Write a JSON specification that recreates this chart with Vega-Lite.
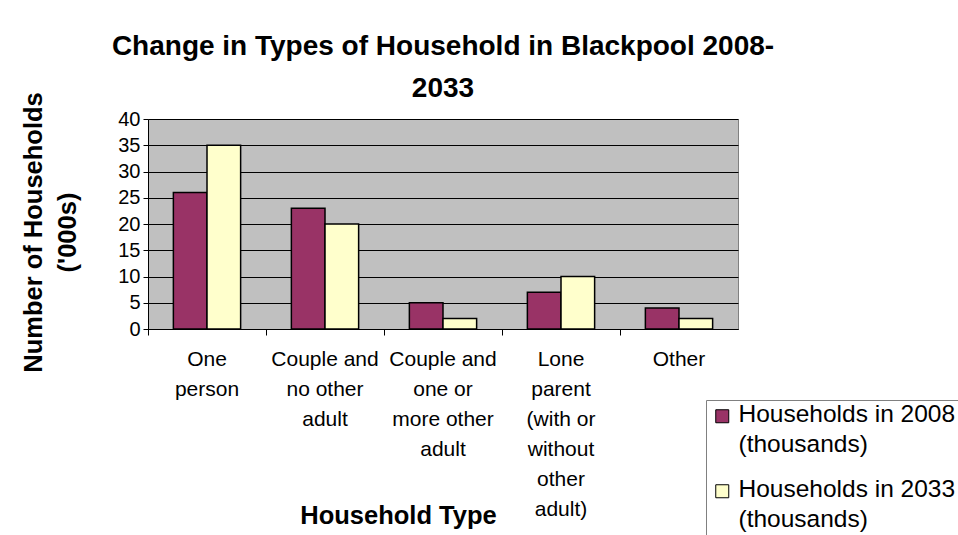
{
  "$schema": "https://vega.github.io/schema/vega-lite/v6.json",
  "autosize": {"type": "none"},
  "width": 590,
  "height": 210,
  "padding": {"left": 148, "top": 119, "right": 220, "bottom": 206},
  "background": "white",
  "title": {
    "text": ["Change in Types of Household in Blackpool 2008-", "2033"],
    "font": "Liberation Sans",
    "fontSize": 28,
    "fontWeight": "bold",
    "color": "black",
    "anchor": "middle",
    "lineHeight": 42,
    "offset": -11
  },
  "config": {
    "view": {"fill": "#C0C0C0", "stroke": "#808080", "strokeWidth": 1},
    "font": "Liberation Sans"
  },
  "data": {
    "values": [
      {"type": "One person", "series": "Households in 2008 (thousands)", "value": 26},
      {"type": "One person", "series": "Households in 2033 (thousands)", "value": 35},
      {"type": "Couple and no other adult", "series": "Households in 2008 (thousands)", "value": 23},
      {"type": "Couple and no other adult", "series": "Households in 2033 (thousands)", "value": 20},
      {"type": "Couple and one or more other adult", "series": "Households in 2008 (thousands)", "value": 5},
      {"type": "Couple and one or more other adult", "series": "Households in 2033 (thousands)", "value": 2},
      {"type": "Lone parent (with or without other adult)", "series": "Households in 2008 (thousands)", "value": 7},
      {"type": "Lone parent (with or without other adult)", "series": "Households in 2033 (thousands)", "value": 10},
      {"type": "Other", "series": "Households in 2008 (thousands)", "value": 4},
      {"type": "Other", "series": "Households in 2033 (thousands)", "value": 2}
    ]
  },
  "mark": {"type": "bar", "stroke": "black", "strokeWidth": 1.5},
  "encoding": {
    "x": {
      "field": "type",
      "type": "nominal",
      "sort": null,
      "scale": {"paddingInner": 0.43, "paddingOuter": 0.215},
      "axis": {
        "title": "Household Type",
        "titleFont": "Liberation Sans",
        "titleFontSize": 25.5,
        "titleFontWeight": "bold",
        "titleColor": "black",
        "titleX": 250,
        "titleY": 186,
        "titleAnchor": null,
        "titleAlign": "center",
        "titleBaseline": "middle",
        "labelAngle": 0,
        "labelFontSize": 21,
        "labelColor": "black",
        "labelLineHeight": 30,
        "labelBaseline": "top",
        "labelPadding": 13,
        "labelLimit": 200,
        "labelExpr": "datum.label == 'One person' ? ['One','person'] : datum.label == 'Couple and no other adult' ? ['Couple and','no other','adult'] : datum.label == 'Couple and one or more other adult' ? ['Couple and','one or','more other','adult'] : datum.label == 'Lone parent (with or without other adult)' ? ['Lone','parent','(with or','without','other','adult)'] : datum.label",
        "bandPosition": -0.377,
        "tickSize": 6,
        "tickColor": "black",
        "domainColor": "black",
        "grid": false
      }
    },
    "xOffset": {"field": "series", "type": "nominal"},
    "y": {
      "field": "value",
      "type": "quantitative",
      "scale": {"domain": [0, 40], "nice": false},
      "axis": {
        "values": [0, 5, 10, 15, 20, 25, 30, 35, 40],
        "title": ["Number of Households", "('000s)"],
        "titleFont": "Liberation Sans",
        "titleFontSize": 25.5,
        "titleFontWeight": "bold",
        "titleColor": "black",
        "titleLineHeight": 34,
        "titleAngle": -90,
        "titleX": -115,
        "titleY": 113,
        "titleAnchor": null,
        "titleAlign": "center",
        "titleBaseline": "middle",
        "labelFontSize": 20,
        "labelColor": "black",
        "labelPadding": 3,
        "tickSize": 5,
        "tickColor": "black",
        "domainColor": "black",
        "grid": true,
        "gridColor": "black",
        "gridWidth": 1
      }
    },
    "color": {
      "field": "series",
      "type": "nominal",
      "scale": {"range": ["#993366", "#FFFFCC"]},
      "legend": {
        "orient": "none",
        "legendX": 558,
        "legendY": 281,
        "title": null,
        "fillColor": "white",
        "strokeColor": "#808080",
        "padding": 4,
        "symbolType": "square",
        "symbolSize": 169,
        "symbolStrokeColor": "black",
        "symbolStrokeWidth": 1,
        "labelFontSize": 24.5,
        "labelColor": "black",
        "labelLimit": 400,
        "labelBaseline": "top",
        "labelOffset": 4,
        "labelExpr": "[slice(datum.label, 0, 18), slice(datum.label, 19)]",
        "rowPadding": 20,
        "encoding": {
          "labels": {
            "lineHeight": {"value": 30},
            "dy": {"value": -13}
          }
        }
      }
    }
  }
}
